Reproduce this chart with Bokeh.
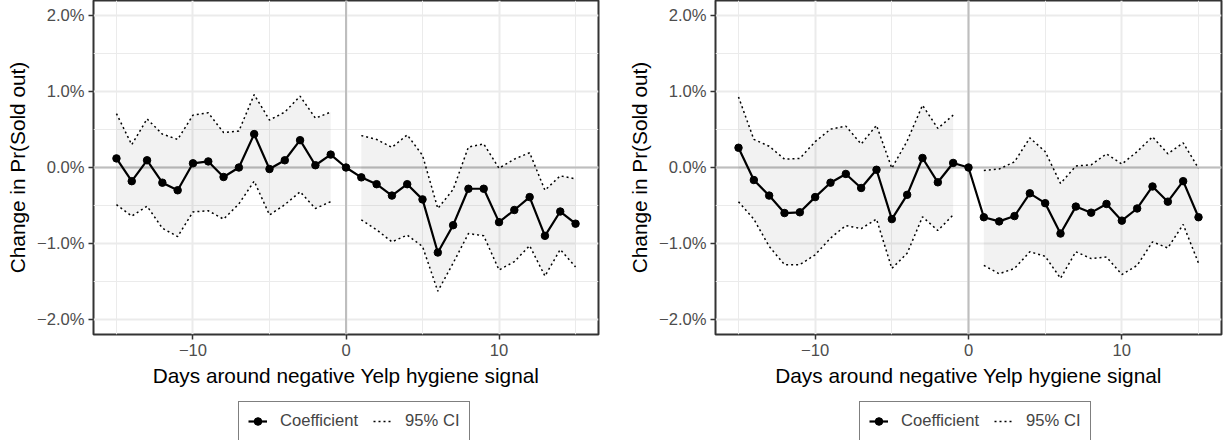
from bokeh.plotting import figure
from bokeh.layouts import row, column
from bokeh.models import FixedTicker, Span, Legend, LegendItem, Range1d
from bokeh.embed import file_html
from bokeh.resources import INLINE

# ---- data (values in percent) ----
days = list(range(-15, 16))
ci_days_pre = list(range(-15, 0))
ci_days_post = list(range(1, 16))

coef_left = [0.12, -0.18, 0.095, -0.20, -0.30, 0.055, 0.08, -0.125, 0.0, 0.44, -0.02, 0.095, 0.36, 0.03, 0.17, 0.0,
             -0.13, -0.22, -0.37, -0.22, -0.42, -1.12, -0.76, -0.28, -0.28, -0.72, -0.56, -0.39, -0.90, -0.58, -0.74]
upper_left_pre = [0.71, 0.30, 0.64, 0.44, 0.37, 0.69, 0.72, 0.46, 0.48, 0.96, 0.625, 0.73, 0.94, 0.65, 0.73]
lower_left_pre = [-0.49, -0.64, -0.51, -0.80, -0.91, -0.585, -0.57, -0.68, -0.48, -0.18, -0.625, -0.49, -0.32, -0.54, -0.45]
upper_left_post = [0.42, 0.37, 0.265, 0.43, 0.16, -0.54, -0.29, 0.27, 0.31, -0.01, 0.11, 0.195, -0.30, -0.11, -0.15]
lower_left_post = [-0.69, -0.82, -0.98, -0.89, -1.04, -1.63, -1.26, -0.87, -0.90, -1.35, -1.24, -1.03, -1.43, -1.08, -1.31]

coef_right = [0.26, -0.165, -0.37, -0.60, -0.59, -0.39, -0.20, -0.085, -0.27, -0.03, -0.68, -0.36, 0.125, -0.195, 0.06, 0.0,
              -0.655, -0.71, -0.64, -0.34, -0.47, -0.87, -0.515, -0.595, -0.48, -0.70, -0.54, -0.25, -0.45, -0.18, -0.655]
upper_right_pre = [0.93, 0.37, 0.28, 0.11, 0.12, 0.34, 0.505, 0.545, 0.31, 0.555, -0.01, 0.35, 0.82, 0.515, 0.69]
lower_right_pre = [-0.45, -0.68, -1.04, -1.28, -1.28, -1.15, -0.93, -0.765, -0.805, -0.68, -1.33, -1.13, -0.65, -0.83, -0.625]
upper_right_post = [-0.04, -0.02, 0.075, 0.39, 0.21, -0.21, 0.02, 0.035, 0.18, 0.045, 0.21, 0.405, 0.18, 0.325, -0.01]
lower_right_post = [-1.29, -1.40, -1.33, -1.11, -1.17, -1.46, -1.11, -1.20, -1.18, -1.41, -1.29, -0.98, -1.06, -0.75, -1.26]

x_ticks = [-10, 0, 10]
x_minor = [-15, -5, 5, 15]
x_labels = {-10: "\u221210", 0: "0", 10: "10"}
y_ticks = [-2, -1, 0, 1, 2]
y_minor = [-1.5, -0.5, 0.5, 1.5]
y_labels = {-2: "\u22122.0%", -1: "\u22121.0%", 0: "0.0%", 1: "1.0%", 2: "2.0%"}

x_title = "Days around negative Yelp hygiene signal"
y_title = "Change in Pr(Sold out)"
legend_labels = ["Coefficient", "95% CI"]

FONT = "Liberation Sans"
COEF_STYLE = dict(line_color="black", line_width=2.2)
PT_STYLE = dict(size=7.5, color="black")
CI_STYLE = dict(line_color="black", line_dash="2 3", line_width=1.5)


def make_panel(coef, up_pre, lo_pre, up_post, lo_post, bl, br):
    p = figure(width=614, height=400, x_range=Range1d(-16.5, 16.5), y_range=Range1d(-2.2, 2.2),
               output_backend="svg", toolbar_location=None,
               min_border_left=bl, min_border_right=br, min_border_top=0, min_border_bottom=66)
    p.background_fill_color = "white"
    p.border_fill_color = "white"
    p.outline_line_color = "#333333"
    p.outline_line_width = 2

    xt = FixedTicker(ticks=x_ticks, minor_ticks=x_minor)
    yt = FixedTicker(ticks=y_ticks, minor_ticks=y_minor)
    p.xaxis.ticker = xt
    p.yaxis.ticker = yt
    p.xgrid.ticker = xt
    p.ygrid.ticker = yt
    for g in (p.xgrid, p.ygrid):
        g.grid_line_color = "#EBEBEB"
        g.grid_line_width = 2
        g.minor_grid_line_color = "#EBEBEB"
        g.minor_grid_line_width = 1

    p.xaxis.major_label_overrides = x_labels
    p.yaxis.major_label_overrides = y_labels
    for ax in (p.xaxis, p.yaxis):
        ax.axis_line_color = None
        ax.major_tick_in = 0
        ax.major_tick_out = 5
        ax.major_tick_line_color = "#333333"
        ax.major_tick_line_width = 1.5
        ax.minor_tick_in = 0
        ax.minor_tick_out = 0
        ax.major_label_text_font = FONT
        ax.major_label_text_font_size = "16.6px"
        ax.major_label_text_color = "#4D4D4D"
        ax.major_label_standoff = 4
        ax.axis_label_text_font = FONT
        ax.axis_label_text_font_size = "20.8px"
        ax.axis_label_text_font_style = "normal"
        ax.axis_label_text_color = "black"
        ax.axis_label_standoff = 5
    p.xaxis.axis_label = x_title
    p.yaxis.axis_label = y_title

    p.add_layout(Span(location=0, dimension="width", line_color="#BEBEBE", line_width=2, level="underlay"))
    p.add_layout(Span(location=0, dimension="height", line_color="#BEBEBE", line_width=2, level="underlay"))

    p.varea(x=ci_days_pre, y1=lo_pre, y2=up_pre, fill_color="black", fill_alpha=0.05)
    p.varea(x=ci_days_post, y1=lo_post, y2=up_post, fill_color="black", fill_alpha=0.05)

    p.multi_line(xs=[ci_days_pre, ci_days_post, ci_days_pre, ci_days_post],
                 ys=[up_pre, up_post, lo_pre, lo_post], **CI_STYLE)
    p.line(days, coef, **COEF_STYLE)
    p.scatter(days, coef, **PT_STYLE)
    return p


def make_legend(coef, up_pre, x_off):
    # legend strip: the series are drawn out of view, only the legend shows
    f = figure(width=614, height=40, x_range=Range1d(100, 101), y_range=Range1d(100, 101),
               output_backend="svg", toolbar_location=None,
               x_axis_type=None, y_axis_type=None,
               min_border_left=0, min_border_right=0, min_border_top=0, min_border_bottom=0)
    f.grid.visible = False
    f.outline_line_color = None
    f.background_fill_color = "white"
    f.border_fill_color = "white"
    ln = f.line(days, coef, **COEF_STYLE)
    sc = f.scatter(days, coef, **PT_STYLE)
    ci = f.line(ci_days_pre, up_pre, **CI_STYLE)
    legend = Legend(items=[LegendItem(label=legend_labels[0], renderers=[ln, sc]),
                           LegendItem(label=legend_labels[1], renderers=[ci])],
                    orientation="horizontal", location=(x_off, -1),
                    border_line_color="black", border_line_width=1,
                    background_fill_color="white",
                    label_text_font=FONT, label_text_font_size="16.6px",
                    glyph_width=19, glyph_height=20, label_standoff=13, spacing=15,
                    padding=9, margin=0)
    f.add_layout(legend)
    return f


p1 = make_panel(coef_left, upper_left_pre, lower_left_pre, upper_left_post, lower_left_post, 93, 16)
p2 = make_panel(coef_right, upper_right_pre, lower_right_pre, upper_right_post, lower_right_post, 101, 7)
l1 = make_legend(coef_left, upper_left_pre, 145)
l2 = make_legend(coef_right, upper_right_pre, 144)

layout = row(column(p1, l1, spacing=0), column(p2, l2, spacing=0), spacing=0)
open("out.html", "w").write(file_html(layout, INLINE))
